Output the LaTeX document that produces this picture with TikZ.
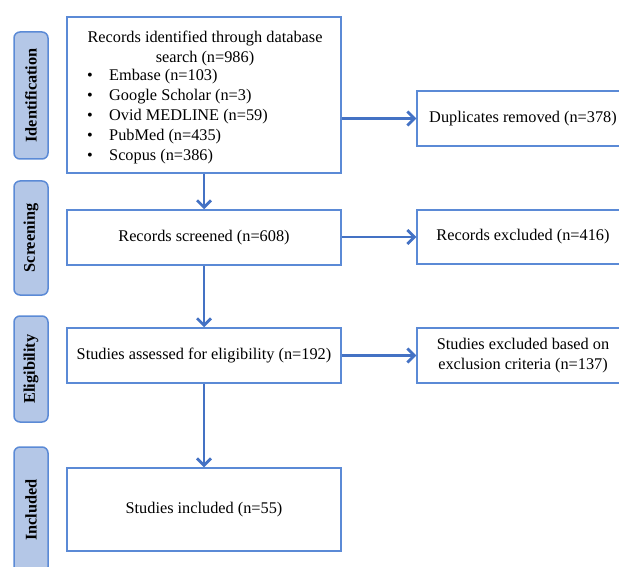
\documentclass[tikz,border=0pt]{standalone}
\usepackage{fontspec}
\setmainfont{Liberation Serif}
\usetikzlibrary{arrows.meta}
\definecolor{boxblue}{HTML}{5B8AD6}
\definecolor{arrblue}{HTML}{4472C4}
\definecolor{labfill}{HTML}{B4C7E7}
\tikzset{
  flowbox/.style={draw=boxblue, line width=1.5pt, fill=white, inner sep=0pt, align=center,
    font=\fontsize{16.3}{20}\selectfont},
  sidelab/.style={draw=boxblue, line width=1.5pt, fill=labfill, rounded corners=6pt,
    inner sep=0pt, rotate=90,
    font=\fontsize{16.3}{20}\selectfont\bfseries},
  txt/.style={inner sep=0pt, font=\fontsize{16.3}{20}\selectfont},
  flow/.style={draw=arrblue, line width=2.8pt, -{Straight Barb[length=7pt,width=14pt,line width=2.8pt]}}
}
\begin{document}
\begin{tikzpicture}[x=1pt,y=-1pt]
\useasboundingbox (0,0) rectangle (619,567);
\clip (0,0) rectangle (619,567);
% side labels
\node[sidelab, minimum width=127pt, minimum height=34pt] (labid) at (31,95.5) {Identification};
\node[sidelab, minimum width=114pt, minimum height=34pt] (labscr) at (31,238) {Screening};
\node[sidelab, minimum width=106pt, minimum height=34pt] (label) at (31,369) {Eligibility};
\node[sidelab, minimum width=126pt, minimum height=34pt] (labinc) at (31,510) {Included};
% main boxes
\node[flowbox, minimum width=274pt, minimum height=156pt] (id) at (204,95) {};
\node[txt, align=center] (idtitle) at (205,48) {Records identified through database\\search (n=986)};
\node[txt, align=left, anchor=north west] (idlist) at (87,69) {%
  \makebox[22pt][l]{\textbullet}Embase (n=103)\\
  \makebox[22pt][l]{\textbullet}Google Scholar (n=3)\\
  \makebox[22pt][l]{\textbullet}Ovid MEDLINE (n=59)\\
  \makebox[22pt][l]{\textbullet}PubMed (n=435)\\
  \makebox[22pt][l]{\textbullet}Scopus (n=386)};
\node[flowbox, minimum width=274pt, minimum height=55pt] (scr) at (204,237.5) {Records screened (n=608)};
\node[flowbox, minimum width=274pt, minimum height=55pt] (elig) at (204,355.5) {Studies assessed for eligibility (n=192)};
\node[flowbox, minimum width=274pt, minimum height=83pt] (inc) at (204,509.5) {Studies included (n=55)};
% right boxes
\node[flowbox, minimum width=212pt, minimum height=55pt] (dup) at (523,118.5) {Duplicates removed (n=378)};
\node[flowbox, minimum width=212pt, minimum height=54pt] (rexc) at (523,237) {Records excluded (n=416)};
\node[flowbox, minimum width=212pt, minimum height=55pt] (sexc) at (523,355.5) {Studies excluded based on\\exclusion criteria (n=137)};
% connectors
\draw[flow] (id.south) -- (scr.north);
\draw[flow] (scr.south) -- (elig.north);
\draw[flow] (elig.south) -- (inc.north);
\draw[flow] (id.east |- dup.west) -- (dup.west);
\draw[flow] (scr.east |- rexc.west) -- (rexc.west);
\draw[flow] (elig.east) -- (sexc.west);
\end{tikzpicture}
\end{document}
